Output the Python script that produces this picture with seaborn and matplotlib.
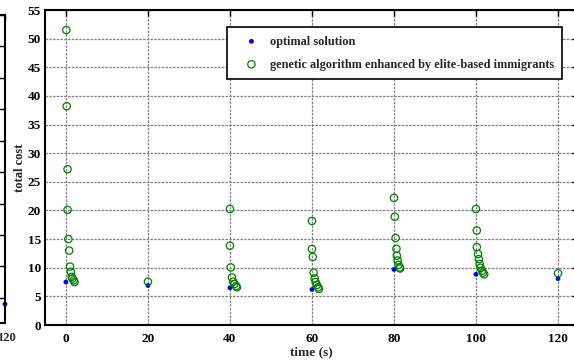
import matplotlib
matplotlib.use("Agg")
import matplotlib.pyplot as plt
import seaborn as sns
import pandas as pd

# Optimal solution at each re-planning instant
opt_time = [0, 20, 40, 60, 80, 100, 120]
opt_cost = [7.5, 6.9, 6.5, 6.2, 9.7, 8.85, 8.1]

# Best cost found by the GA generation by generation after each change
ga_time = [0.1, 0.2, 0.4, 0.4, 0.6, 0.8, 1.0, 1.2, 1.4, 1.6, 1.9, 2.1,
           20.0,
           40.0, 40.0, 40.2, 40.5, 40.8, 41.1, 41.5, 41.7,
           60.0, 60.0, 60.2, 60.4, 60.65, 60.9, 61.2, 61.5, 61.7,
           80.0, 80.2, 80.4, 80.6, 80.7, 80.9, 81.1, 81.4, 81.5,
           100.0, 100.2, 100.2, 100.5, 100.7, 100.9, 101.1, 101.5, 101.7, 102.0,
           120.0]
ga_cost = [51.5, 38.2, 27.2, 20.1, 15.0, 13.0, 10.2, 9.3, 8.4, 8.1, 7.8, 7.5,
           7.56,
           20.25, 13.85, 10.06, 8.3, 7.56, 7.16, 6.8, 6.58,
           18.16, 13.27, 11.87, 9.13, 8.13, 7.5, 6.98, 6.58, 6.29,
           22.2, 18.9, 15.2, 13.3, 12.1, 11.26, 10.5, 10.06, 9.87,
           20.25, 16.5, 13.6, 12.4, 11.5, 10.65, 10.0, 9.48, 9.14, 8.85,
           9.03]

# Neighbouring panel (only its right edge shows)
side_time = [120]
side_cost = [3.0]
side_last_tick = 120

x_ticks = [0, 20, 40, 60, 80, 100, 120]
y_ticks = list(range(0, 56, 5))

sns.set_style("white")
plt.rcParams["font.family"] = ["Liberation Serif", "DejaVu Serif"]
plt.rcParams["font.weight"] = "bold"

W, H = 574, 360
fig = plt.figure(figsize=(W / 100, H / 100), dpi=100)

def box(x0, y0, x1, y1):
    return [x0 / W, 1 - y1 / H, (x1 - x0) / W, (y1 - y0) / H]

green = "#008000"
blue = "#0000ff"

# ---- neighbouring panel on the left ----
side = fig.add_axes(box(-300, 15, 5, 323))
side_df = pd.DataFrame({"t": side_time, "c": side_cost})
sns.scatterplot(data=side_df, x="t", y="c", ax=side, color=blue, s=12,
                edgecolor="none", clip_on=False, legend=False)
side.set_xlim(-5, 120)
side.set_ylim(0, 49)
side.set_xticks(x_ticks)
side.set_xticklabels([])
side.annotate(str(side_last_tick), xy=(side_last_tick, 0),
              xycoords=("data", "axes fraction"), xytext=(0.8, -6.5),
              textcoords="offset points", ha="center", va="top",
              fontsize=9, fontweight="bold", annotation_clip=False)
side.set_yticks(list(range(4, 50, 5)))
side.set_yticklabels([])
side.set_xlabel("")
side.set_ylabel("")
side.tick_params(direction="in", length=4, width=1, right=True, top=True,
                 pad=5, colors="black")
for sp in side.spines.values():
    sp.set_linewidth(1.5)
    sp.set_color("black")

# ---- main panel ----
ax = fig.add_axes(box(45, 10, 578.5, 325))
ga_df = pd.DataFrame({"t": ga_time, "c": ga_cost})
opt_df = pd.DataFrame({"t": opt_time, "c": opt_cost})

sns.scatterplot(data=opt_df, x="t", y="c", ax=ax, color=blue, s=12,
                edgecolor="none", label="optimal solution", zorder=3)
sns.scatterplot(data=ga_df, x="t", y="c", ax=ax, marker="o", s=28,
                facecolor="none", edgecolor=green, linewidth=0.9,
                label="genetic algorithm enhanced by elite-based immigrants",
                zorder=4)

ax.set_xlim(-5.1, 125)
ax.set_ylim(0, 55)
ax.set_xticks(x_ticks)
ax.set_yticks(y_ticks)
ax.set_xticklabels([str(v) for v in x_ticks], fontsize=9.5, fontweight="bold")
ax.set_yticklabels([str(v) for v in y_ticks], fontsize=9.5, fontweight="bold")
ax.tick_params(direction="in", length=4, width=1, right=True, top=True,
               colors="black")
ax.tick_params(axis="x", pad=6)
ax.tick_params(axis="y", pad=3)
ax.grid(True, color="0.5", linestyle=(0, (2, 1)), linewidth=0.9)
ax.set_axisbelow(True)
for sp in ax.spines.values():
    sp.set_linewidth(1.5)
    sp.set_color("black")

ax.set_xlabel("time (s)", fontsize=9.5, fontweight="bold", labelpad=1)
ax.set_ylabel("total cost", fontsize=9, fontweight="bold", labelpad=1)

leg = ax.legend(loc="upper left", bbox_to_anchor=(227 / W, 1 - 27 / H),
                bbox_transform=fig.transFigure, borderaxespad=0,
                frameon=True, fancybox=False, framealpha=1,
                edgecolor="black", prop={"size": 8.8, "weight": "bold"},
                borderpad=0.7, handlelength=2.6, handletextpad=0.2,
                labelspacing=0.9)
leg.get_frame().set_linewidth(1.2)

fig.savefig("out.png", dpi=100)
